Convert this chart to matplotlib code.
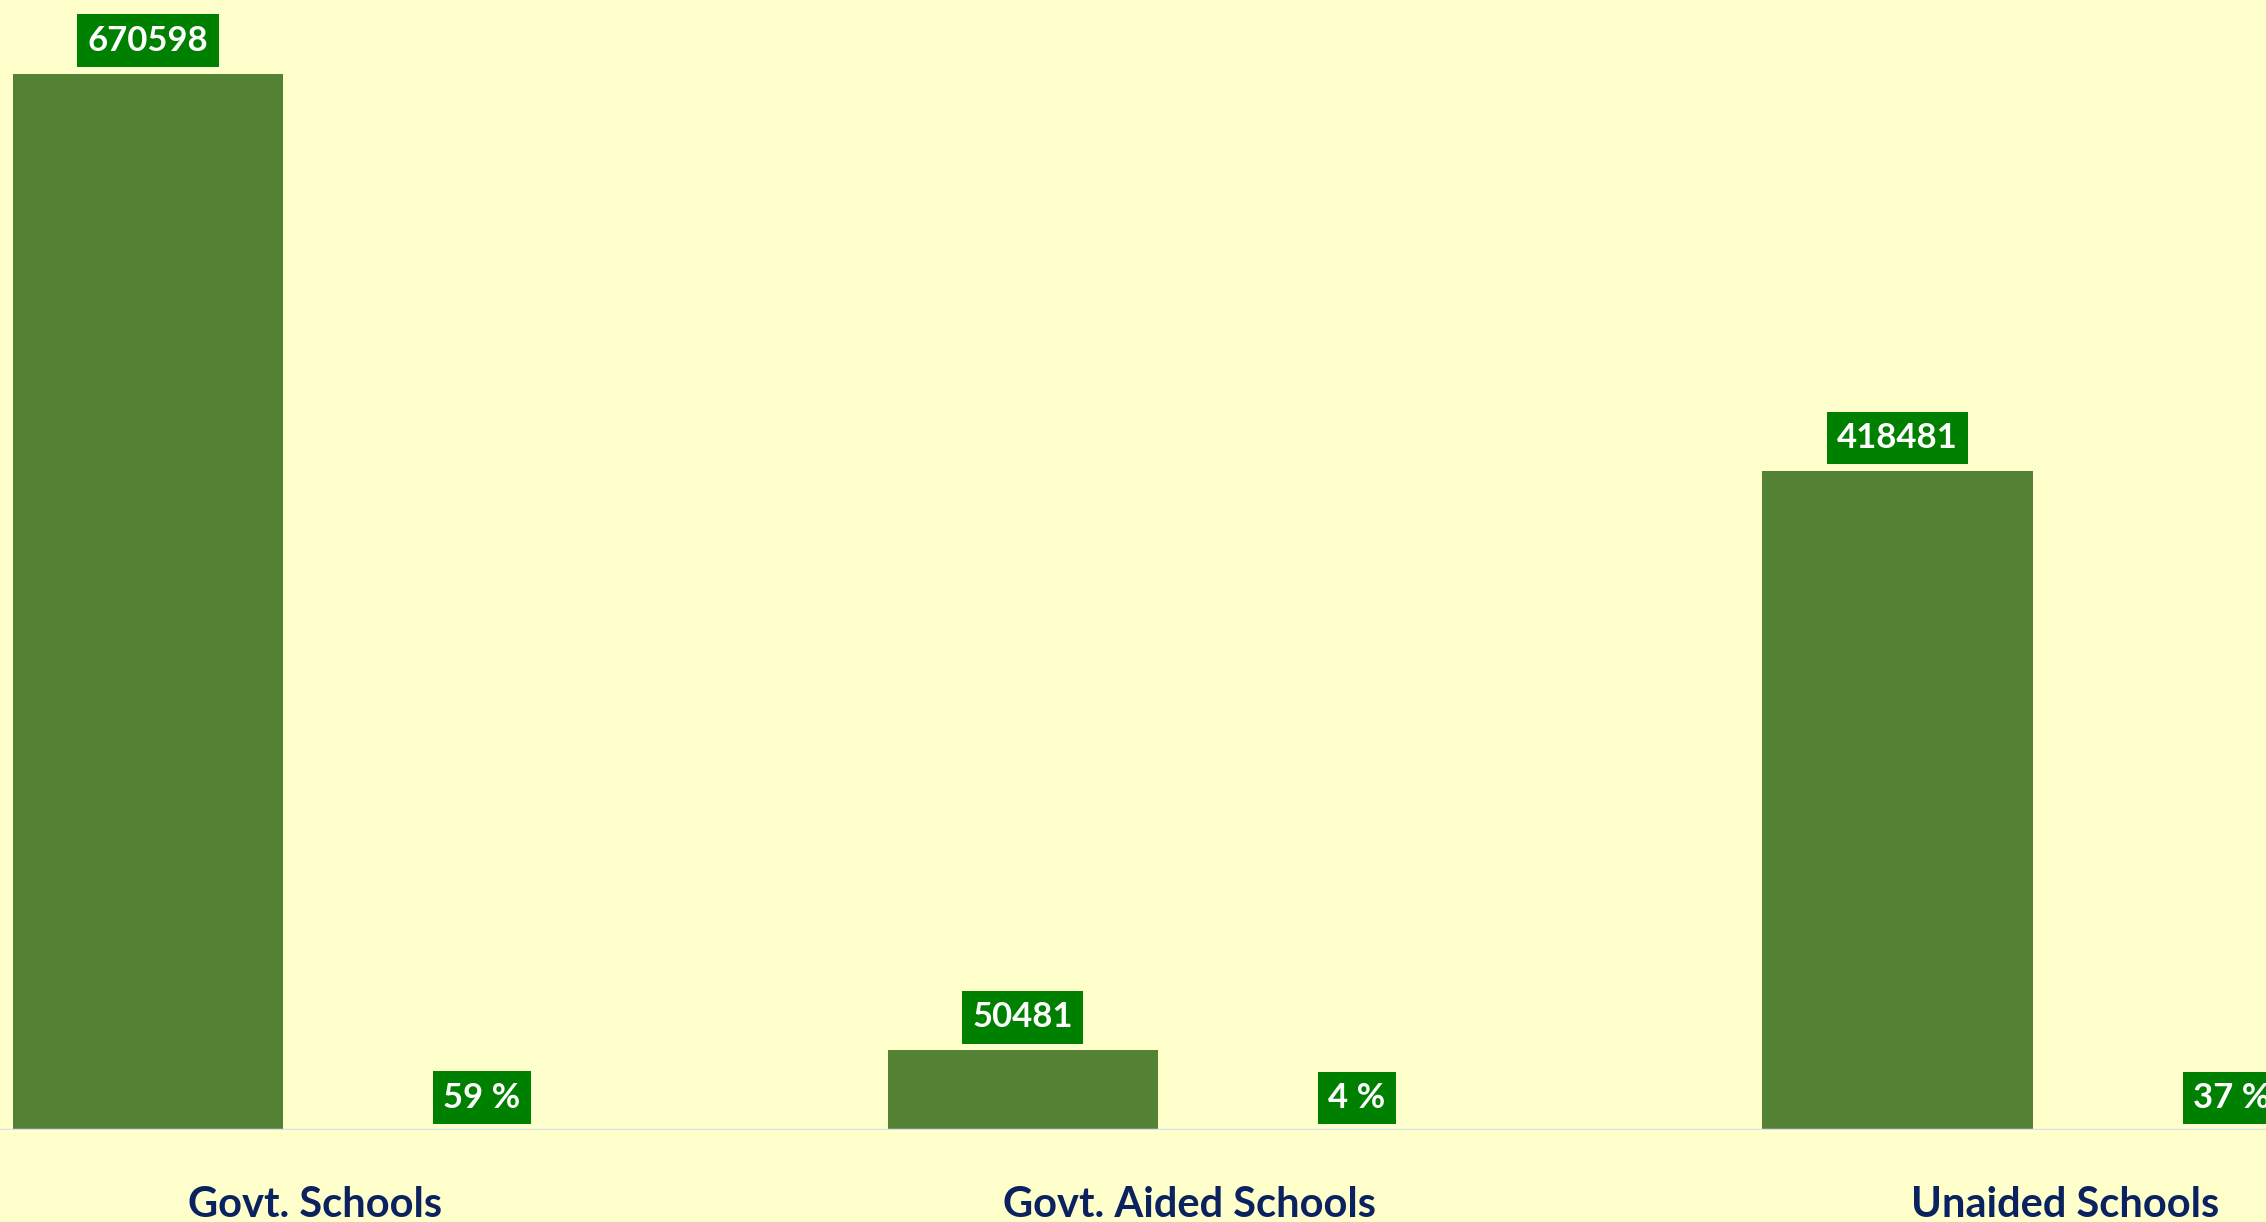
"""School count by management type — clustered bars with boxed labels."""

import matplotlib
matplotlib.use("Agg")
import matplotlib.pyplot as plt
import matplotlib.transforms as mtransforms
import numpy as np

categories = ["Govt. Schools", "Govt. Aided Schools", "Unaided Schools"]
counts = [670598, 50481, 418481]
shares = [59, 4, 37]

BG = "#FFFFCC"
BAR = "#548235"
BOX = "#008000"
NAVY = "#0B2260"

plt.rcParams["font.family"] = ["Lato", "DejaVu Sans"]

fig = plt.figure(figsize=(22.66, 12.22), dpi=100, facecolor=BG)
ax = fig.add_axes([0, 92 / 1222, 1, 1130 / 1222])
ax.set_facecolor(BG)

x = np.arange(len(categories))
offset = 0.191
width = 0.309

bars = ax.bar(x - offset, counts, width=width, color=BAR, zorder=2)
# percentage series is on the same axis, so its bars are practically flat
pct_bars = ax.bar(x + offset, shares, width=width, color=BAR, zorder=2)

box = dict(boxstyle="square,pad=0.3", facecolor=BOX, edgecolor="none")
for rect, val in zip(bars, counts):
    ax.annotate(
        f"{val}",
        xy=(rect.get_x() + rect.get_width() / 2, rect.get_height()),
        xytext=(0, 17),
        textcoords="offset pixels",
        ha="center", va="bottom",
        fontsize=25, fontweight="bold", color="white",
        bbox=box, zorder=4,
    )
for rect, val in zip(pct_bars, shares):
    ax.annotate(
        f"{val} %",
        xy=(rect.get_x() + rect.get_width() / 2, rect.get_height()),
        xytext=(0, 16),
        textcoords="offset pixels",
        ha="center", va="bottom",
        fontsize=25, fontweight="bold", color="white",
        bbox=box, zorder=4,
    )

# category names sit under the middle of each group
trans = mtransforms.blended_transform_factory(ax.transData, ax.transAxes)
for xi, name in zip(x, categories):
    ax.text(
        xi, -87 / 1130, name, transform=trans,
        ha="center", va="baseline",
        fontsize=30, fontweight="bold", color=NAVY,
    )

ax.axhline(0, color="#D9DEEA", linewidth=2.5, zorder=3)

ax.set_xlim(-0.36, 2.23)
ax.set_ylim(0, 717500)
ax.set_xticks([])
ax.set_yticks([])
for side in ["top", "right", "left", "bottom"]:
    ax.spines[side].set_visible(False)

fig.savefig("out.png", dpi=100, facecolor=BG)
plt.close(fig)
